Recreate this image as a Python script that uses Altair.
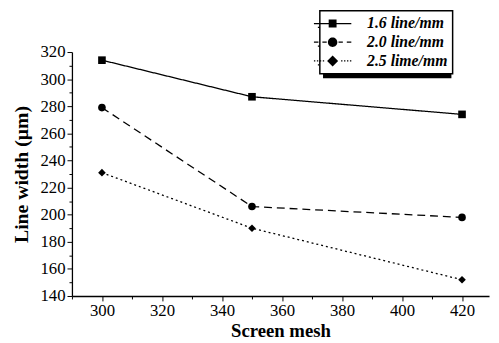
import altair as alt
import pandas as pd

# ---- data ----
mesh = [300, 350, 420]
series_names = ["1.6 line/mm", "2.0 line/mm", "2.5 lime/mm"]
s16 = [314, 287, 274]
s20 = [279, 206, 198]
s25 = [231, 190, 152]

x_ticks = [290, 300, 310, 320, 330, 340, 350, 360, 370, 380, 390, 400, 410, 420]
y_ticks = [140, 150, 160, 170, 180, 190, 200, 210, 220, 230, 240, 250, 260, 270, 280, 290, 300, 310, 320]

rows = []
for name, vals in zip(series_names, [s16, s20, s25]):
    for m, v in zip(mesh, vals):
        rows.append({"mesh": m, "width": v, "series": name})
df = pd.DataFrame(rows)

FONT = "Liberation Serif"


# legend symbols: line stub (thin filled rectangles) + marker, as custom paths
def seg(a, b, t=0.16):
    return f"M{a},{-t}H{b}V{t}H{a}Z"


leg_paths = [
    seg(-4.75, 4.75) + "M-1,-1H1V1H-1Z",
    seg(-4.75, -3.6) + seg(-2.6, -1.5) + seg(1.5, 2.6) + seg(3.6, 4.75)
    + "M-1.2,0A1.2,1.2,0,1,1,1.2,0A1.2,1.2,0,1,1,-1.2,0Z",
    "".join(seg(a, a + 0.35) for a in [-4.75, -4.0, -3.25, -2.5, 2.15, 2.9, 3.65, 4.4])
    + "M0,-1.4L1.4,0L0,1.4L-1.4,0Z",
]

tick_size = {"condition": {"test": "datum.value % 20 === 0", "value": 5}, "value": 3}

x_enc = alt.X(
    "mesh:Q",
    scale=alt.Scale(domain=[290, 429], nice=False, zero=False),
    axis=alt.Axis(
        title="Screen mesh",
        values=x_ticks,
        labelExpr="datum.value % 20 === 0 ? datum.label : ''",
        labelOverlap=False,
        labelBound=False,
        tickSize=tick_size,
    ),
)
y_enc = alt.Y(
    "width:Q",
    scale=alt.Scale(domain=[140, 320], nice=False, zero=False),
    axis=alt.Axis(
        title="Line width (µm)",
        values=y_ticks,
        labelExpr="datum.value % 20 === 0 ? datum.label : ''",
        labelOverlap=False,
        labelBound=False,
        tickSize=tick_size,
    ),
)

base = alt.Chart(df)

lines = base.mark_line(color="black", strokeWidth=1.3).encode(
    x=x_enc,
    y=y_enc,
    strokeDash=alt.StrokeDash(
        "series:N",
        scale=alt.Scale(domain=series_names, range=[[1, 0], [8, 5], [2, 3]]),
        legend=None,
    ),
)

points = base.mark_point(filled=True, color="black", opacity=1, size=60).encode(
    x=x_enc,
    y=y_enc,
    shape=alt.Shape(
        "series:N",
        scale=alt.Scale(domain=series_names, range=["square", "circle", "diamond"]),
        legend=None,
    ),
)

LEG_X = 252
LEG_Y = -42
LABEL_OFFSET = 27
LABEL_W = 80  # approximate width of the widest legend label


def legend_layer(shadow):
    off = 4 if shadow else 0
    if shadow:
        extra = dict(labelExpr="'\u00a0'", labelOffset=LABEL_OFFSET + LABEL_W - 4,
                     fillColor="black", zindex=1)
    else:
        extra = dict(labelOffset=LABEL_OFFSET, fillColor="white", zindex=2)
    return (
        base.transform_filter("false")
        .mark_point(filled=True, color="black", opacity=1)
        .encode(
            x=x_enc,
            y=y_enc,
            shape=alt.Shape(
                "series:N",
                scale=alt.Scale(domain=series_names, range=leg_paths),
                legend=alt.Legend(
                    title=None,
                    orient="none",
                    legendX=LEG_X + off,
                    legendY=LEG_Y + off,
                    strokeColor="black",
                    padding=5,
                    rowPadding=3,
                    symbolSize=64,
                    symbolFillColor="black",
                    symbolStrokeWidth=0,
                    symbolOpacity=1,
                    labelFont=FONT,
                    labelFontSize=16,
                    labelFontStyle="italic",
                    labelFontWeight="bold",
                    labelColor="black",
                    **extra,
                ),
            ),
        )
    )


chart = (
    alt.layer(lines, points, legend_layer(True), legend_layer(False))
    .resolve_scale(shape="independent")
    .properties(
        width=424,
        height=248,
        autosize=alt.AutoSizeParams(type="none"),
        padding={"left": 65, "top": 42, "right": 2, "bottom": 44},
    )
    .configure_view(stroke=None)
    .configure_legend(strokeWidth=1.5)
    .configure_axis(
        labelFont=FONT,
        labelFontSize=17,
        labelColor="black",
        labelOverlap=False,
        titleFont=FONT,
        titleFontSize=19,
        titleFontWeight="bold",
        titleColor="black",
        domainColor="black",
        domainWidth=1.3,
        tickColor="black",
        tickWidth=1,
        grid=False,
        labelPadding=2,
    )
    .configure_axisY(titlePadding=9, titleFontSize=20)
    .configure_axisX(titlePadding=3)
)

chart.save("out.html", embed_options={"renderer": "svg", "actions": False})
